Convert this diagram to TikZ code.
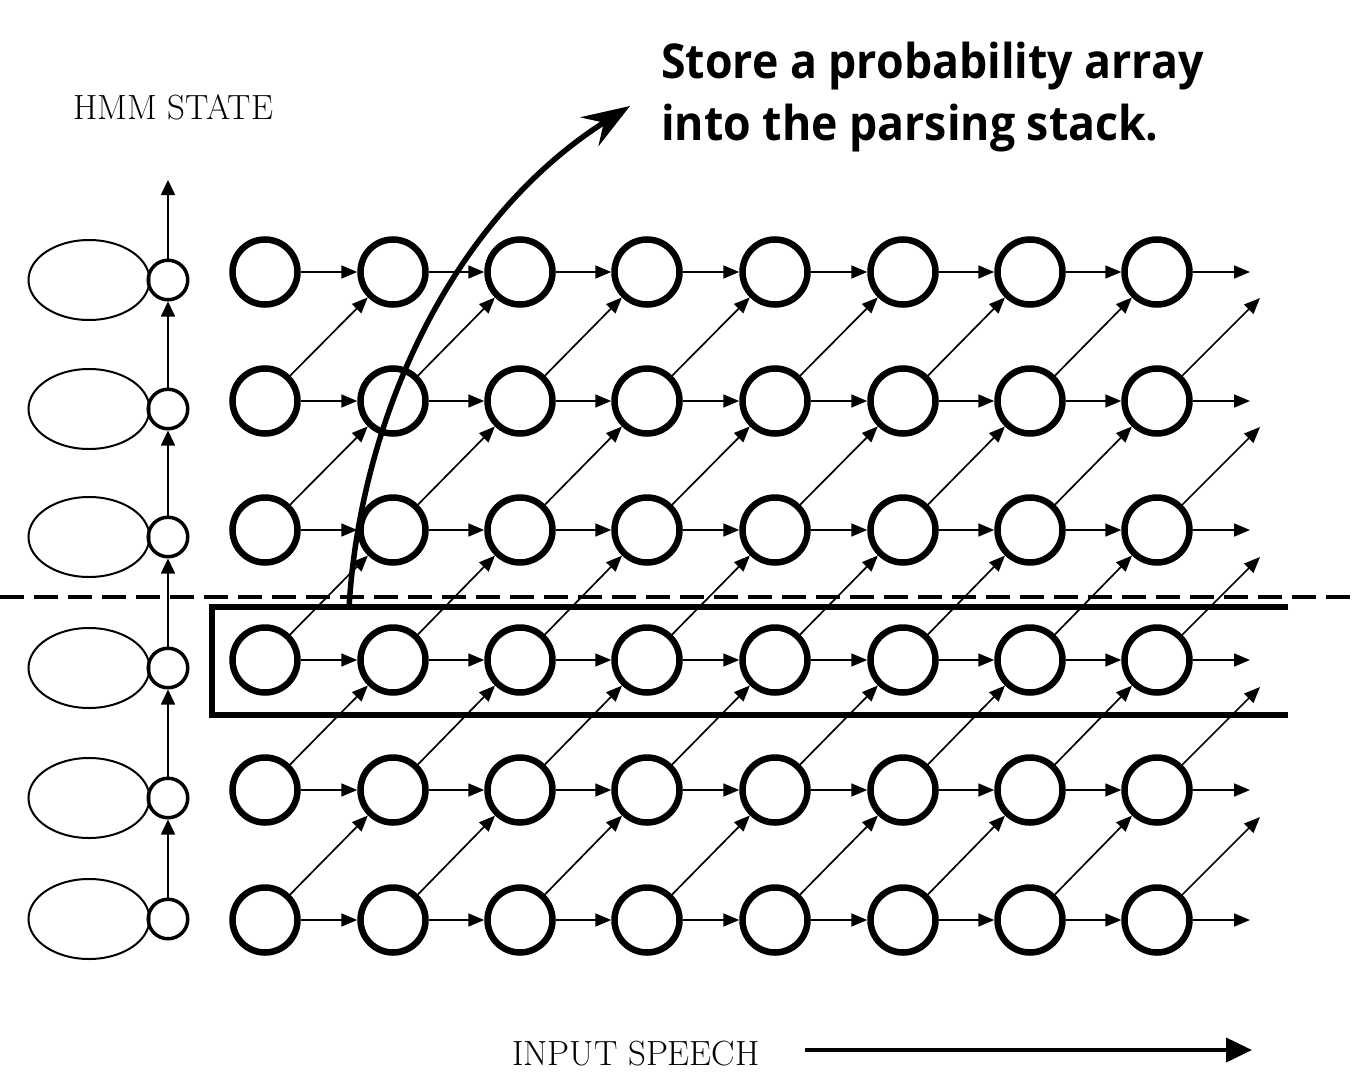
\documentclass[tikz,border=0pt]{standalone}
\usepackage{fontspec}
\newfontfamily\storefont{Open Sans}
\usetikzlibrary{arrows.meta,shapes.geometric}
\begin{document}
\begin{tikzpicture}[x=1pt,y=-1pt,
  big/.style={circle, draw, line width=6.5pt, minimum size=65pt, inner sep=0pt},
  small/.style={circle, draw, line width=3.5pt, minimum size=39.5pt, inner sep=0pt},
  hmm/.style={ellipse, draw, line width=2pt, minimum width=121pt, minimum height=80pt, inner sep=0pt},
  conn/.style={line width=1.7pt, -{Triangle[length=16pt,width=13pt]}},
  vconn/.style={line width=1.7pt, -{Triangle[length=15pt,width=14pt]}},
  lbl/.style={anchor=base west, inner sep=0pt, font=\fontsize{35}{35}\selectfont},
  note/.style={anchor=base west, inner sep=0pt, font=\storefont\bfseries\fontsize{48}{48}\selectfont}
]
\useasboundingbox (0,0) rectangle (1357,1073);
% left column: ellipses and small circles
\foreach \r/\y in {1/280,2/409,3/537,4/668,5/798,6/919}{
  \node[hmm] (e\r) at (89,\y) {};
  \node[small] (s\r) at (168,\y) {};
}
\coordinate (stop) at (168,180);
\draw[vconn] (s1) -- (stop);
\foreach \r in {2,...,6}{
  \pgfmathtruncatemacro\rp{\r-1}
  \draw[vconn] (s\r) -- (s\rp);
}
% big grid
\foreach \r/\y in {1/272,2/401,3/530,4/660,5/790,6/920}{
  \foreach \c/\x in {1/265,2/393,3/520,4/647,5/775,6/903,7/1030,8/1157}{
    \node[big] (n-\r-\c) at (\x,\y) {};
  }
  \coordinate (h\r) at (1250,\y);
}
\foreach \r/\y in {2/401,3/530,4/660,5/790,6/920}{
  \coordinate (d\r) at (1260,\y-103);
}
\foreach \r in {1,...,6}{
  \foreach \c in {1,...,7}{
    \pgfmathtruncatemacro\cn{\c+1}
    \draw[conn] (n-\r-\c) -- (n-\r-\cn);
  }
  \draw[conn] (n-\r-8) -- (h\r);
}
\foreach \r in {2,...,6}{
  \pgfmathtruncatemacro\rp{\r-1}
  \foreach \c in {1,...,7}{
    \pgfmathtruncatemacro\cn{\c+1}
    \draw[conn] (n-\r-\c) -- (n-\rp-\cn);
  }
  \draw[conn] (n-\r-8) -- (d\r);
}
% highlighted row and dashed divider
\draw[line width=6.5pt, line join=miter] (1288,607) -- (212,607) -- (212,715) -- (1288,715);
\draw[line width=3.5pt, dash pattern=on 24pt off 10pt] (0,597) -- (1357,597);
% curved arrow
\coordinate (cs) at (349,608);
\coordinate (ce) at (630,106);
\draw[line width=5.5pt, -{Stealth[length=48pt,width=34pt,inset=17pt]}] (cs) .. controls (360,420) and (450,220) .. (ce);
% texts
\node[note] (t1) at (661,78) {\scalebox{0.93}[1]{Store a probability array}};
\node[note] (t2) at (661,140) {\scalebox{0.93}[1]{into the parsing stack.}};
\node[lbl] (lh) at (73,119) {HMM STATE};
\node[lbl] (li) at (512,1065) {INPUT SPEECH};
% input speech arrow
\coordinate (as) at (805,1050);
\coordinate (ae) at (1252,1050);
\draw[line width=4pt, -{Triangle[length=26pt,width=24pt]}] (as) -- (ae);
\end{tikzpicture}
\end{document}
